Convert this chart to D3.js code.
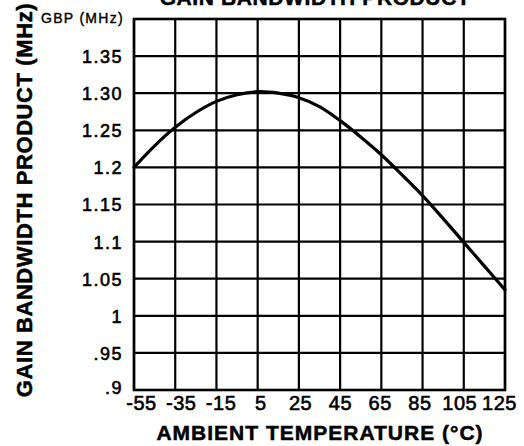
<!DOCTYPE html>
<html>
<head>
<meta charset="utf-8">
<script src="https://cdn.jsdelivr.net/npm/d3@7"></script>
<style>
  html, body { margin: 0; padding: 0; background: #fff; }
  svg { display: block; }
  text { font-family: "Liberation Sans", Arial, Helvetica, sans-serif; fill: #000; }
</style>
</head>
<body>
<svg id="chart" width="524" height="446"></svg>
<script>
// ---- data ----
const temperatures = [-55, -45, -35, -25, -15, -5, 5, 15, 25, 35, 45, 55, 65, 75, 85, 95, 105, 115, 125];
const gbpValues    = [1.200, 1.229, 1.254, 1.274, 1.289, 1.298, 1.302, 1.300, 1.294, 1.282, 1.263, 1.241, 1.217, 1.190, 1.162, 1.131, 1.099, 1.067, 1.035];
const xTicks = [-55, -35, -15, 5, 25, 45, 65, 85, 105, 125];
const xTickLabels = ["-55", "-35", "-15", "5", "25", "45", "65", "85", "105", "125"];
const yGrid = [0.90, 0.95, 1.00, 1.05, 1.10, 1.15, 1.20, 1.25, 1.30, 1.35, 1.40];
const yTicks = [0.90, 0.95, 1.00, 1.05, 1.10, 1.15, 1.20, 1.25, 1.30, 1.35];
const yTickLabels = [".9", ".95", "1", "1.05", "1.1", "1.15", "1.2", "1.25", "1.30", "1.35"];

const svg = d3.select("#chart");
const L = 134, R = 505, T = 19, B = 390;

const x = d3.scaleLinear().domain([-55, 125]).range([L, R]);
const y = d3.scaleLinear().domain([0.9, 1.4]).range([B, T]);
// label positions in the original drawing are slightly compressed relative to grid
const xLab = d3.scaleLinear().domain([-55, 125]).range([L + 7, R - 6]);

// grid
const grid = svg.append("g").attr("stroke", "#000").attr("stroke-width", 2.2).attr("fill", "none");
grid.selectAll("line.v").data(xTicks).join("line")
  .attr("x1", d => x(d)).attr("x2", d => x(d)).attr("y1", T).attr("y2", B);
grid.selectAll("line.h").data(yGrid).join("line")
  .attr("y1", d => y(d)).attr("y2", d => y(d)).attr("x1", L).attr("x2", R);
grid.append("rect").attr("x", L).attr("y", T).attr("width", R - L).attr("height", B - T).attr("stroke-width", 2.6);

// curve
const line = d3.line().x((d, i) => x(temperatures[i])).y(d => y(d)).curve(d3.curveCatmullRom.alpha(0.5));
svg.append("path").datum(gbpValues).attr("d", line)
  .attr("fill", "none").attr("stroke", "#000").attr("stroke-width", 3.2).attr("stroke-linecap", "round");

// y tick labels
const yAxis = d3.axisLeft(y).tickValues(yTicks).tickSize(0).tickPadding(0)
  .tickFormat((d, i) => yTickLabels[i]);
const gy = svg.append("g").attr("transform", `translate(${L - 11},0)`).call(yAxis);
gy.select(".domain").remove();
gy.selectAll("text").attr("font-size", 18).attr("font-family", "Liberation Sans, Arial, sans-serif")
  .attr("letter-spacing", 1.5).attr("dy", "0.36em").attr("fill", "#000")
  .attr("stroke", "#000").attr("stroke-width", 0.6);
gy.selectAll("text").filter(d => d === 0.90).attr("dy", "0.2em");

// x tick labels
const xAxis = d3.axisBottom(xLab).tickValues(xTicks).tickSize(0).tickPadding(0)
  .tickFormat((d, i) => xTickLabels[i]);
const gx = svg.append("g").attr("transform", `translate(0,${B + 6})`).call(xAxis);
gx.select(".domain").remove();
gx.selectAll("text").attr("font-size", 20).attr("font-family", "Liberation Sans, Arial, sans-serif")
  .attr("letter-spacing", 0.5).attr("dy", "0.71em").attr("fill", "#000")
  .attr("stroke", "#000").attr("stroke-width", 0.6);

// unit label
svg.append("text").attr("x", 124).attr("y", 23).attr("text-anchor", "end")
  .attr("font-size", 14).attr("letter-spacing", 1.3).attr("stroke", "#000").attr("stroke-width", 0.4)
  .text("GBP (MHz)");

// titles
svg.append("text").attr("x", 315).attr("y", 5).attr("text-anchor", "middle")
  .attr("font-size", 21).attr("font-weight", "bold").attr("letter-spacing", 0.6)
  .attr("stroke", "#000").attr("stroke-width", 0.5)
  .text("GAIN BANDWIDTH PRODUCT");

svg.append("text").attr("x", 320).attr("y", 440).attr("text-anchor", "middle")
  .attr("font-size", 21).attr("font-weight", "bold").attr("letter-spacing", 1)
  .attr("stroke", "#000").attr("stroke-width", 0.5)
  .text("AMBIENT TEMPERATURE (°C)");

svg.append("text").attr("transform", "translate(32,200) rotate(-90)").attr("text-anchor", "middle")
  .attr("font-size", 22).attr("font-weight", "bold").attr("letter-spacing", 0.6)
  .attr("stroke", "#000").attr("stroke-width", 0.5)
  .text("GAIN BANDWIDTH PRODUCT (MHz)");
</script>
</body>
</html>
